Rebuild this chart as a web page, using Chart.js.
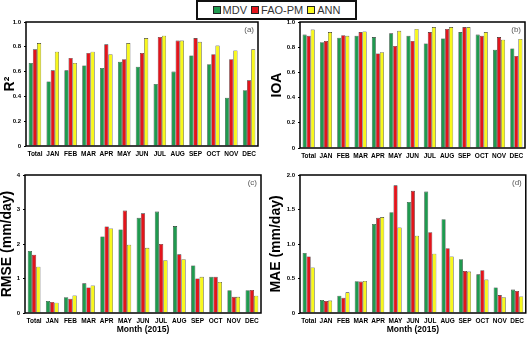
<!DOCTYPE html>
<html>
<head>
<meta charset="utf-8">
<script src="https://cdn.jsdelivr.net/npm/chart.js@4"></script>
<style>
  body { margin: 0; background: #fff; width: 528px; height: 337px; position: relative; overflow: hidden; font-family: "Liberation Sans", Arial, sans-serif; }
  .panel { position: absolute; }
  #legend { position: absolute; left: 196px; top: 0px; width: 157px; height: 16px; border: 2px solid #111; display: flex; align-items: center; justify-content: center; gap: 4px; font-size: 11px; color: #333; background: #fff; }
  #legend span.box { display: inline-block; width: 6px; height: 6px; border: 1px solid #222; margin-right: 2px; }
</style>
</head>
<body>
<div id="legend">
  <span><span class="box" style="background:#1f9a4f"></span>MDV</span>
  <span><span class="box" style="background:#e3141b"></span>FAO-PM</span>
  <span><span class="box" style="background:#f8f81c"></span>ANN</span>
</div>
<div class="panel" style="left:0px;top:0px"><canvas id="chartA" width="264" height="168"></canvas></div>
<div class="panel" style="left:264px;top:0px"><canvas id="chartB" width="264" height="168"></canvas></div>
<div class="panel" style="left:0px;top:168px"><canvas id="chartC" width="264" height="169"></canvas></div>
<div class="panel" style="left:264px;top:168px"><canvas id="chartD" width="264" height="169"></canvas></div>
<script>
const months = ["Total", "JAN", "FEB", "MAR", "APR", "MAY", "JUN", "JUL", "AUG", "SEP", "OCT", "NOV", "DEC"];
const seriesNames = ["MDV", "FAO-PM", "ANN"];

// (a) R2
const r2Mdv = [0.67, 0.52, 0.61, 0.65, 0.63, 0.68, 0.64, 0.50, 0.60, 0.73, 0.66, 0.39, 0.45];
const r2Fao = [0.78, 0.61, 0.71, 0.75, 0.82, 0.70, 0.75, 0.88, 0.85, 0.87, 0.74, 0.70, 0.53];
const r2Ann = [0.83, 0.76, 0.67, 0.76, 0.74, 0.83, 0.87, 0.89, 0.85, 0.84, 0.81, 0.77, 0.78];

// (b) IOA
const ioaMdv = [0.90, 0.84, 0.875, 0.89, 0.88, 0.91, 0.89, 0.83, 0.87, 0.92, 0.90, 0.78, 0.79];
const ioaFao = [0.89, 0.85, 0.895, 0.92, 0.75, 0.81, 0.85, 0.92, 0.945, 0.96, 0.89, 0.88, 0.73];
const ioaAnn = [0.94, 0.92, 0.89, 0.925, 0.76, 0.93, 0.945, 0.96, 0.96, 0.96, 0.92, 0.86, 0.865];

// (c) RMSE (mm/day)
const rmseMdv = [1.80, 0.35, 0.46, 0.86, 2.22, 2.42, 2.76, 2.94, 2.52, 1.38, 1.05, 0.66, 0.66];
const rmseFao = [1.69, 0.32, 0.41, 0.74, 2.51, 2.97, 2.89, 2.00, 1.70, 1.00, 1.05, 0.47, 0.67];
const rmseAnn = [1.34, 0.30, 0.51, 0.80, 2.45, 1.98, 1.89, 1.53, 1.56, 1.05, 0.90, 0.47, 0.50];

// (d) MAE (mm/day)
const maeMdv = [0.87, 0.19, 0.25, 0.46, 1.29, 1.46, 1.61, 1.76, 1.36, 0.78, 0.56, 0.37, 0.34];
const maeFao = [0.82, 0.175, 0.22, 0.455, 1.38, 1.85, 1.77, 1.17, 0.94, 0.61, 0.62, 0.26, 0.32];
const maeAnn = [0.66, 0.18, 0.30, 0.465, 1.39, 1.24, 1.12, 0.86, 0.82, 0.60, 0.485, 0.23, 0.24];

const colors = ["#1f9a4f", "#e3141b", "#f8f81c"];
const font = "'Liberation Sans', Arial, sans-serif";

// box around the plot area + panel letter
const boxPlugin = {
    id: 'box',
    afterDraw(chart, args, opts) {
        const a = chart.chartArea;
        const c = chart.ctx;
        c.save();
        c.strokeStyle = '#000';
        c.lineWidth = 1.5;
        c.strokeRect(a.left, a.top, a.right - a.left, a.bottom - a.top);
        c.fillStyle = '#555';
        c.font = "8px " + font;
        c.textAlign = 'right';
        c.textBaseline = 'top';
        c.fillText(opts.letter, a.right - 4, a.top + 4);
        c.restore();
    }
};

function makePanel(id, data, yTitle, yMax, yStep, xTitle, pad, yWidth, xHeight, titlePad) {
    new Chart(document.getElementById(id), {
        type: 'bar',
        data: {
            labels: months,
            datasets: data.map((d, i) => ({
                label: seriesNames[i],
                data: d,
                backgroundColor: colors[i],
                borderColor: '#2a2a2a',
                borderWidth: 0.6,
                categoryPercentage: 0.7,
                barPercentage: 1.0
            }))
        },
        options: {
            responsive: false,
            animation: false,
            layout: { padding: pad },
            plugins: { legend: { display: false }, tooltip: { enabled: false }, box: { letter: pad.letter } },
            scales: {
                x: {
                    grid: { display: false, drawTicks: false },
                    border: { display: false },
                    ticks: { color: '#000', font: { family: font, size: 6.5, weight: 'bold' }, maxRotation: 0, autoSkip: false, padding: 4 },
                    title: { display: !!xTitle, text: xTitle, color: '#000', font: { family: font, size: 8.5, weight: 'bold' }, padding: { top: 0, bottom: 2 } },
                    afterFit: s => { s.height = xHeight; }
                },
                y: {
                    min: 0, max: yMax,
                    grid: { display: true, drawOnChartArea: false, tickLength: 2, color: '#000' },
                    border: { display: false },
                    ticks: { stepSize: yStep, color: '#000', font: { family: font, size: 6, weight: 'bold' }, padding: 3 },
                    title: { display: true, text: yTitle, color: '#000', font: { family: font, size: 14, weight: 'bold', lineHeight: 1 }, padding: { top: titlePad, bottom: 0 } },
                    afterFit: s => { s.width = yWidth; }
                }
            }
        },
        plugins: [boxPlugin]
    });
}

makePanel('chartA', [r2Mdv, r2Fao, r2Ann], 'R²', 1, 0.2, '', { top: 22, right: 6, left: 0, bottom: 0, letter: '(a)' }, 26, 22, 3);
makePanel('chartB', [ioaMdv, ioaFao, ioaAnn], 'IOA', 1, 0.2, '', { top: 22, right: 3, left: 0, bottom: 0, letter: '(b)' }, 36, 20, 6);
makePanel('chartC', [rmseMdv, rmseFao, rmseAnn], 'RMSE (mm/day)', 4, 1, 'Month (2015)', { top: 7, right: 3, left: 0, bottom: 0, letter: '(c)' }, 25, 24, 0);
makePanel('chartD', [maeMdv, maeFao, maeAnn], 'MAE (mm/day)', 2, 0.5, 'Month (2015)', { top: 7, right: 1, left: 0, bottom: 0, letter: '(d)' }, 36, 24, 5);
</script>
</body>
</html>
